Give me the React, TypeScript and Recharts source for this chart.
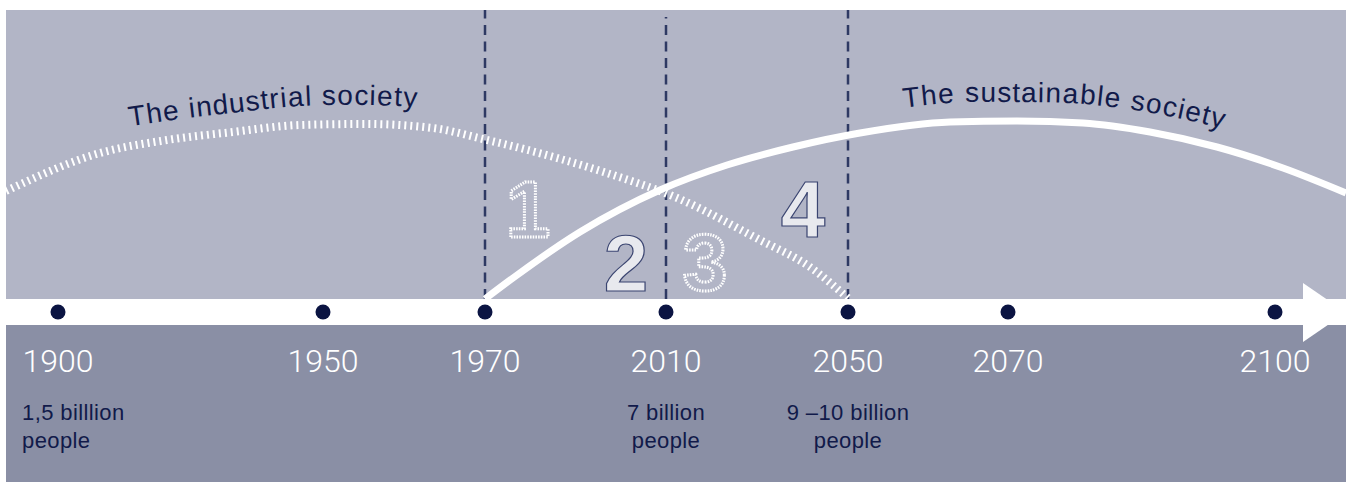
import React from 'react';
import { ComposedChart, XAxis, YAxis, Line, Scatter, ReferenceArea, ReferenceLine } from 'recharts';

// timeline units: 0 = left edge of the panel, 1340 = tip of the arrow
// height units: 0 = middle of the arrow, 302 = top of the panel, -170 = bottom
const years = ['1900', '1950', '1970', '2010', '2050', '2070', '2100'];
const yearPos = [52, 317, 479, 660, 842, 1002, 1269];

// the industrial society (dotted arc)
const industrialX = [0, 94, 161, 227, 294, 361, 427, 477, 544, 604, 669, 754, 804, 844];
const industrialY = [121, 159, 172, 180, 187, 188, 184, 173, 156, 138, 115, 72, 45, 12];

// the sustainable society (solid arc)
const sustainableX = [479, 507, 574, 654, 721, 787, 854, 944, 1011, 1077, 1144, 1211, 1277, 1340];
const sustainableY = [13, 34, 80, 122, 147, 165, 179, 190, 191, 189, 180, 165, 144, 119];

// dashed dividers
const dividerYears = ['1970', '2010', '2050'];
const dividerTop = [302, 295, 302];

// phase numbers
const phases = ['1', '2', '3', '4'];
const phaseX = [522, 620, 699, 797];
const phaseY = [75, 21, 22, 75];

// population notes under the years
const popFirst = ['1,5 billlion', '7 billion', '9 –10 billion'];
const popSecond = ['people', 'people', 'people'];
const popX = [16, 660, 842];

const NAVY = '#111a4a';
const FONT = '"Liberation Sans", Arial, Helvetica, sans-serif';

const industrial = industrialX.map((x, i) => ({ x, y: industrialY[i] }));
const sustainable = sustainableX.map((x, i) => ({ x, y: sustainableY[i] }));
const yearDots = yearPos.map((x, i) => ({ x, y: 0, label: years[i] }));
const yearLabels = yearPos.map((x, i) => ({ x, y: -60, label: years[i] }));
const popData = popX.map((x, i) => ({ x, y: -108, a: popFirst[i], b: popSecond[i], i }));
const phaseData = phases.map((p, i) => ({ x: phaseX[i], y: phaseY[i], label: p }));

// text that follows an arc, drawn from the line's own points
const arcText = (id: string, label: string, startX: number) => (props: any) => {
  const { index, points } = props;
  if (index !== 0 || !points) return <g key={`${id}-${index}`} />;
  const pts = points.map((p: any) => ({ x: p.x, y: p.y, v: p.payload.x }));
  let d = `M${pts[0].x},${pts[0].y}`;
  for (let i = 0; i < pts.length - 1; i++) {
    const p0 = pts[i - 1] || pts[i];
    const p1 = pts[i];
    const p2 = pts[i + 1];
    const p3 = pts[i + 2] || p2;
    d += ` C${p1.x + (p2.x - p0.x) / 6},${p1.y + (p2.y - p0.y) / 6} ${p2.x - (p3.x - p1.x) / 6},${p2.y - (p3.y - p1.y) / 6} ${p2.x},${p2.y}`;
  }
  let offset = 0;
  for (let i = 0; i < pts.length - 1; i++) {
    const a = pts[i];
    const b = pts[i + 1];
    const seg = Math.hypot(b.x - a.x, b.y - a.y);
    if (b.v <= startX) {
      offset += seg;
      continue;
    }
    if (a.v < startX) offset += (seg * (startX - a.v)) / (b.v - a.v);
    break;
  }
  return (
    <g key={id}>
      <path id={id} d={d} fill="none" stroke="none" />
      <text dy={-19} fill={NAVY} fontSize={28} letterSpacing={1} fontFamily={FONT}>
        <textPath href={`#${id}`} startOffset={offset}>
          {label}
        </textPath>
      </text>
    </g>
  );
};

const App: React.FC = () => {
  return (
    <div style={{ position: 'absolute', left: 0, top: 0, background: '#fff' }}>
      <ComposedChart width={1351} height={482} margin={{ top: 10, right: 5, bottom: 0, left: 6 }}>
        <XAxis type="number" dataKey="x" domain={[0, 1340]} hide />
        <YAxis type="number" dataKey="y" domain={[-170, 302]} hide />

        <ReferenceArea x1={0} x2={1340} y1={13} y2={302} fill="#b2b5c6" fillOpacity={1} stroke="none" />
        <ReferenceArea x1={0} x2={1340} y1={-170} y2={-13} fill="#8a8fa5" fillOpacity={1} stroke="none" />
        <ReferenceArea x1={0} x2={1298} y1={-13} y2={13} fill="#ffffff" fillOpacity={1} stroke="none" />
        <ReferenceArea
          x1={1297}
          x2={1340}
          y1={-30}
          y2={29}
          fill="#ffffff"
          fillOpacity={1}
          shape={(p: any) => (
            <polygon
              points={`${p.x},${p.y} ${p.x},${p.y + p.height} ${p.x + p.width},${p.y + p.height / 2}`}
              fill="#ffffff"
            />
          )}
        />

        {dividerYears.map((yr, i) => {
          const x = yearPos[years.indexOf(yr)];
          return (
            <ReferenceLine
              key={yr}
              segment={[{ x, y: 13 }, { x, y: dividerTop[i] }]}
              stroke="#2e3963"
              strokeWidth={2.5}
              strokeDasharray="10 6.5"
            />
          );
        })}

        <Line
          data={industrial}
          dataKey="y"
          type="monotone"
          stroke="#ffffff"
          strokeWidth={8}
          strokeDasharray="2 4"
          dot={arcText('arc-industrial', 'The industrial society', 127)}
          activeDot={false}
          isAnimationActive={false}
        />
        <Line
          data={sustainable}
          dataKey="y"
          type="monotone"
          stroke="#ffffff"
          strokeWidth={7}
          dot={arcText('arc-sustainable', 'The sustainable society', 900)}
          activeDot={false}
          isAnimationActive={false}
        />

        <Scatter
          data={phaseData}
          isAnimationActive={false}
          shape={(p: any) => {
            const dotted = p.payload.label === '1' || p.payload.label === '3';
            return (
              <text
                x={p.cx}
                y={p.cy}
                textAnchor="middle"
                fontFamily={FONT}
                fontWeight="bold"
                fontSize={80}
                fill={dotted ? 'none' : '#e8e9ee'}
                stroke={dotted ? '#ffffff' : '#3b4571'}
                strokeWidth={dotted ? 3 : 1.2}
                strokeDasharray={dotted ? '1.5 1.2' : undefined}
              >
                {p.payload.label}
              </text>
            );
          }}
        />

        <Scatter
          data={yearDots}
          isAnimationActive={false}
          shape={(p: any) => <circle cx={p.cx} cy={p.cy} r={7.5} fill="#0b1442" />}
        />
        <Scatter
          data={yearLabels}
          isAnimationActive={false}
          shape={(p: any) => (
            <text
              x={p.cx}
              y={p.cy}
              textAnchor="middle"
              fill="#ffffff"
              fontSize={32}
              fontWeight={300}
              fontFamily="Roboto, Lato, sans-serif"
            >
              {p.payload.label}
            </text>
          )}
        />
        <Scatter
          data={popData}
          isAnimationActive={false}
          shape={(p: any) => (
            <text
              x={p.cx}
              y={p.cy}
              textAnchor={p.payload.i === 0 ? 'start' : 'middle'}
              fill={NAVY}
              fontSize={22}
              letterSpacing={0.4}
              fontFamily={FONT}
            >
              <tspan x={p.cx}>{p.payload.a}</tspan>
              <tspan x={p.cx} dy={28}>
                {p.payload.b}
              </tspan>
            </text>
          )}
        />
      </ComposedChart>
    </div>
  );
};

export default App;
